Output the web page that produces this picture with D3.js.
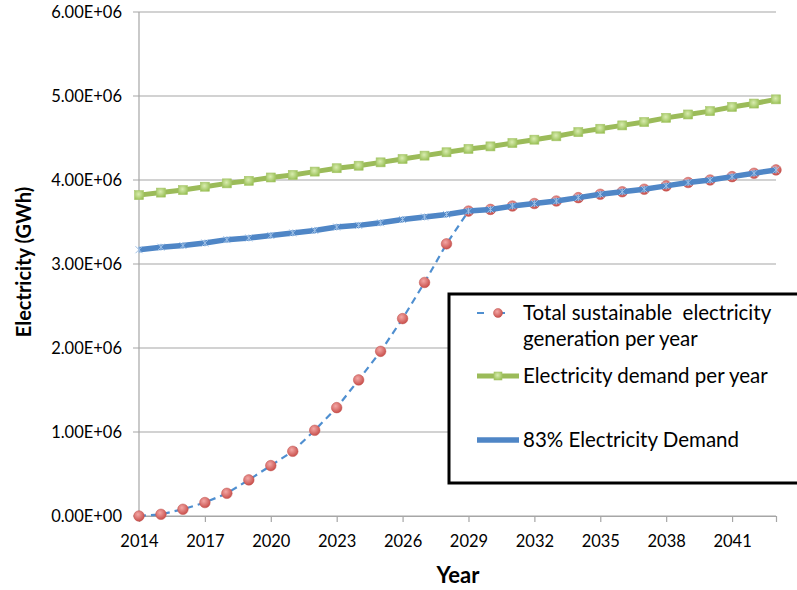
<!DOCTYPE html>
<html>
<head>
<meta charset="utf-8">
<script src="https://cdn.jsdelivr.net/npm/d3@7"></script>
<style>
  body { margin: 0; background: #fff; }
  text { font-family: Lato, "Open Sans", sans-serif; fill: #000; }
</style>
</head>
<body>
<svg id="chart" width="797" height="590"></svg>
<script>
// données (GWh)
const years = d3.range(2014, 2044)
const demand = [3.82e6, 3.85e6, 3.88e6, 3.92e6, 3.96e6, 3.99e6, 4.03e6, 4.06e6, 4.10e6, 4.14e6,
  4.17e6, 4.21e6, 4.25e6, 4.29e6, 4.33e6, 4.37e6, 4.40e6, 4.44e6, 4.48e6, 4.52e6,
  4.57e6, 4.61e6, 4.65e6, 4.69e6, 4.74e6, 4.78e6, 4.82e6, 4.87e6, 4.91e6, 4.96e6]
const demand83 = [3.17e6, 3.20e6, 3.22e6, 3.25e6, 3.29e6, 3.31e6, 3.34e6, 3.37e6, 3.40e6, 3.44e6,
  3.46e6, 3.49e6, 3.53e6, 3.56e6, 3.59e6, 3.63e6, 3.65e6, 3.69e6, 3.72e6, 3.75e6,
  3.79e6, 3.83e6, 3.86e6, 3.89e6, 3.93e6, 3.97e6, 4.00e6, 4.04e6, 4.08e6, 4.12e6]
const generation = [0, 0.02e6, 0.08e6, 0.16e6, 0.27e6, 0.43e6, 0.60e6, 0.77e6, 1.02e6, 1.29e6,
  1.62e6, 1.96e6, 2.35e6, 2.78e6, 3.24e6, 3.63e6, 3.65e6, 3.69e6, 3.72e6, 3.75e6,
  3.79e6, 3.83e6, 3.86e6, 3.89e6, 3.93e6, 3.97e6, 4.00e6, 4.04e6, 4.08e6, 4.12e6]
const xTicks = [2014, 2017, 2020, 2023, 2026, 2029, 2032, 2035, 2038, 2041]
const yTicks = [0, 1e6, 2e6, 3e6, 4e6, 5e6, 6e6]

const svg = d3.select('#chart')
const plotLeft = 139, plotRight = 776, plotTop = 12, plotBottom = 516
const tickFont = '16.5px'
const legendFont = '20.5px'

const x = d3.scaleLinear().domain([2014, 2043]).range([plotLeft, plotRight])
const y = d3.scaleLinear().domain([0, 6e6]).range([plotBottom, plotTop])

// défs : dégradés des marqueurs
const defs = svg.append('defs')
const rg = defs.append('radialGradient').attr('id', 'redDot').attr('cx', '40%').attr('cy', '35%').attr('r', '65%')
rg.append('stop').attr('offset', '0%').attr('stop-color', '#f3a7a5')
rg.append('stop').attr('offset', '100%').attr('stop-color', '#c9504c')
const gg = defs.append('radialGradient').attr('id', 'greenSq').attr('cx', '45%').attr('cy', '40%').attr('r', '70%')
gg.append('stop').attr('offset', '0%').attr('stop-color', '#d9ecb0')
gg.append('stop').attr('offset', '100%').attr('stop-color', '#94bd4f')

//Grille horizontale
svg.append('g')
  .selectAll('line')
  .data(yTicks)
  .enter()
  .append('line')
  .attr('x1', plotLeft - 6).attr('x2', plotRight)
  .attr('y1', d => y(d)).attr('y2', d => y(d))
  .attr('stroke', '#a6a6a6').attr('stroke-width', 1.2)

//Axe Y
svg.append('line')
  .attr('x1', plotLeft).attr('x2', plotLeft).attr('y1', plotTop).attr('y2', plotBottom)
  .attr('stroke', '#a6a6a6').attr('stroke-width', 1.2)

svg.append('g')
  .selectAll('text')
  .data(yTicks)
  .enter()
  .append('text')
  .attr('x', 122).attr('y', d => y(d) + 6)
  .attr('text-anchor', 'end')
  .style('font-size', tickFont)
  .text(d => (d / 1e6).toFixed(2) + (d === 0 ? 'E+00' : 'E+06'))

//Axe X
const xAxis = svg.append('g')
  .attr('transform', 'translate(0,' + plotBottom + ')')
  .call(d3.axisBottom(x).tickValues(xTicks).tickSize(6).tickFormat(d3.format('d')))
xAxis.select('.domain').attr('stroke', '#a6a6a6').attr('stroke-width', 1.2)
xAxis.selectAll('.tick line').attr('stroke', '#a6a6a6').attr('stroke-width', 1.2)
xAxis.selectAll('.tick text')
  .attr('y', 19)
  .style('font-size', tickFont)
  .style('font-family', 'Lato, "Open Sans", sans-serif')
  .attr('fill', '#000')

//Titres des axes
svg.append('text')
  .attr('x', 458).attr('y', 583)
  .attr('text-anchor', 'middle')
  .style('font-size', '22px').style('font-weight', 'bold')
  .text('Year')

svg.append('text')
  .attr('transform', 'translate(31,' + 262 + ') rotate(-90)')
  .attr('text-anchor', 'middle')
  .style('font-size', '20px').style('font-weight', 'bold')
  .text('Electricity (GWh)')

const line = d3.line().x((d, i) => x(years[i])).y(d => y(d))

//Série production (pointillés + cercles)
svg.append('path')
  .attr('d', line(generation))
  .attr('fill', 'none')
  .attr('stroke', '#4f8fd0').attr('stroke-width', 2.2)
  .attr('stroke-dasharray', '7,5')
svg.append('g')
  .selectAll('circle')
  .data(generation)
  .enter()
  .append('circle')
  .attr('cx', (d, i) => x(years[i])).attr('cy', d => y(d))
  .attr('r', 5.3).attr('fill', 'url(#redDot)')
  .attr('stroke', '#c0504d').attr('stroke-width', 0.5)

//Série demande
svg.append('path')
  .attr('d', line(demand))
  .attr('fill', 'none')
  .attr('stroke', '#9bbb59').attr('stroke-width', 5)
svg.append('g')
  .selectAll('rect')
  .data(demand)
  .enter()
  .append('rect')
  .attr('x', (d, i) => x(years[i]) - 4.5).attr('y', d => y(d) - 4.5)
  .attr('width', 9).attr('height', 9)
  .attr('fill', 'url(#greenSq)')
  .attr('stroke', '#a8c66c').attr('stroke-width', 0.6)

//Série 83 %
svg.append('path')
  .attr('d', line(demand83))
  .attr('fill', 'none')
  .attr('stroke', '#4f86c6').attr('stroke-width', 5.5)
svg.append('g')
  .selectAll('path.star')
  .data(demand83)
  .enter()
  .append('path')
  .attr('class', 'star')
  .attr('d', (d, i) => {
    const cx = x(years[i]), cy = y(d), s = 3.5
    return 'M' + (cx - s) + ',' + (cy - s) + 'L' + (cx + s) + ',' + (cy + s) +
      'M' + (cx - s) + ',' + (cy + s) + 'L' + (cx + s) + ',' + (cy - s) +
      'M' + cx + ',' + (cy - s) + 'L' + cx + ',' + (cy + s)
  })
  .attr('stroke', '#9ec0e6').attr('stroke-width', 1)

//Légende
const lg = svg.append('g')
lg.append('rect')
  .attr('x', 449).attr('y', 294).attr('width', 360).attr('height', 189)
  .attr('fill', '#fff').attr('stroke', '#000').attr('stroke-width', 3)

const lx1 = 477, lx2 = 519
lg.append('line')
  .attr('x1', lx1).attr('x2', lx2).attr('y1', 313).attr('y2', 313)
  .attr('stroke', '#4f8fd0').attr('stroke-width', 2.2).attr('stroke-dasharray', '7,14')
lg.append('circle').attr('cx', (lx1 + lx2) / 2).attr('cy', 313).attr('r', 4.5)
  .attr('fill', 'url(#redDot)').attr('stroke', '#c0504d').attr('stroke-width', 0.5)
lg.append('text').attr('x', 523).attr('y', 320).style('font-size', legendFont)
  .style('white-space', 'pre').text('Total sustainable  electricity')
lg.append('text').attr('x', 523).attr('y', 346).style('font-size', legendFont)
  .text('generation per year')

lg.append('line')
  .attr('x1', lx1).attr('x2', lx2).attr('y1', 376).attr('y2', 376)
  .attr('stroke', '#9bbb59').attr('stroke-width', 5)
lg.append('rect').attr('x', (lx1 + lx2) / 2 - 4).attr('y', 372).attr('width', 8).attr('height', 8)
  .attr('fill', 'url(#greenSq)').attr('stroke', '#a8c66c').attr('stroke-width', 0.6)
lg.append('text').attr('x', 523).attr('y', 383).style('font-size', legendFont)
  .text('Electricity demand per year')

lg.append('line')
  .attr('x1', lx1).attr('x2', lx2).attr('y1', 440).attr('y2', 440)
  .attr('stroke', '#4f86c6').attr('stroke-width', 5.5)
lg.append('text').attr('x', 523).attr('y', 447).style('font-size', legendFont)
  .text('83% Electricity Demand')
</script>
</body>
</html>
